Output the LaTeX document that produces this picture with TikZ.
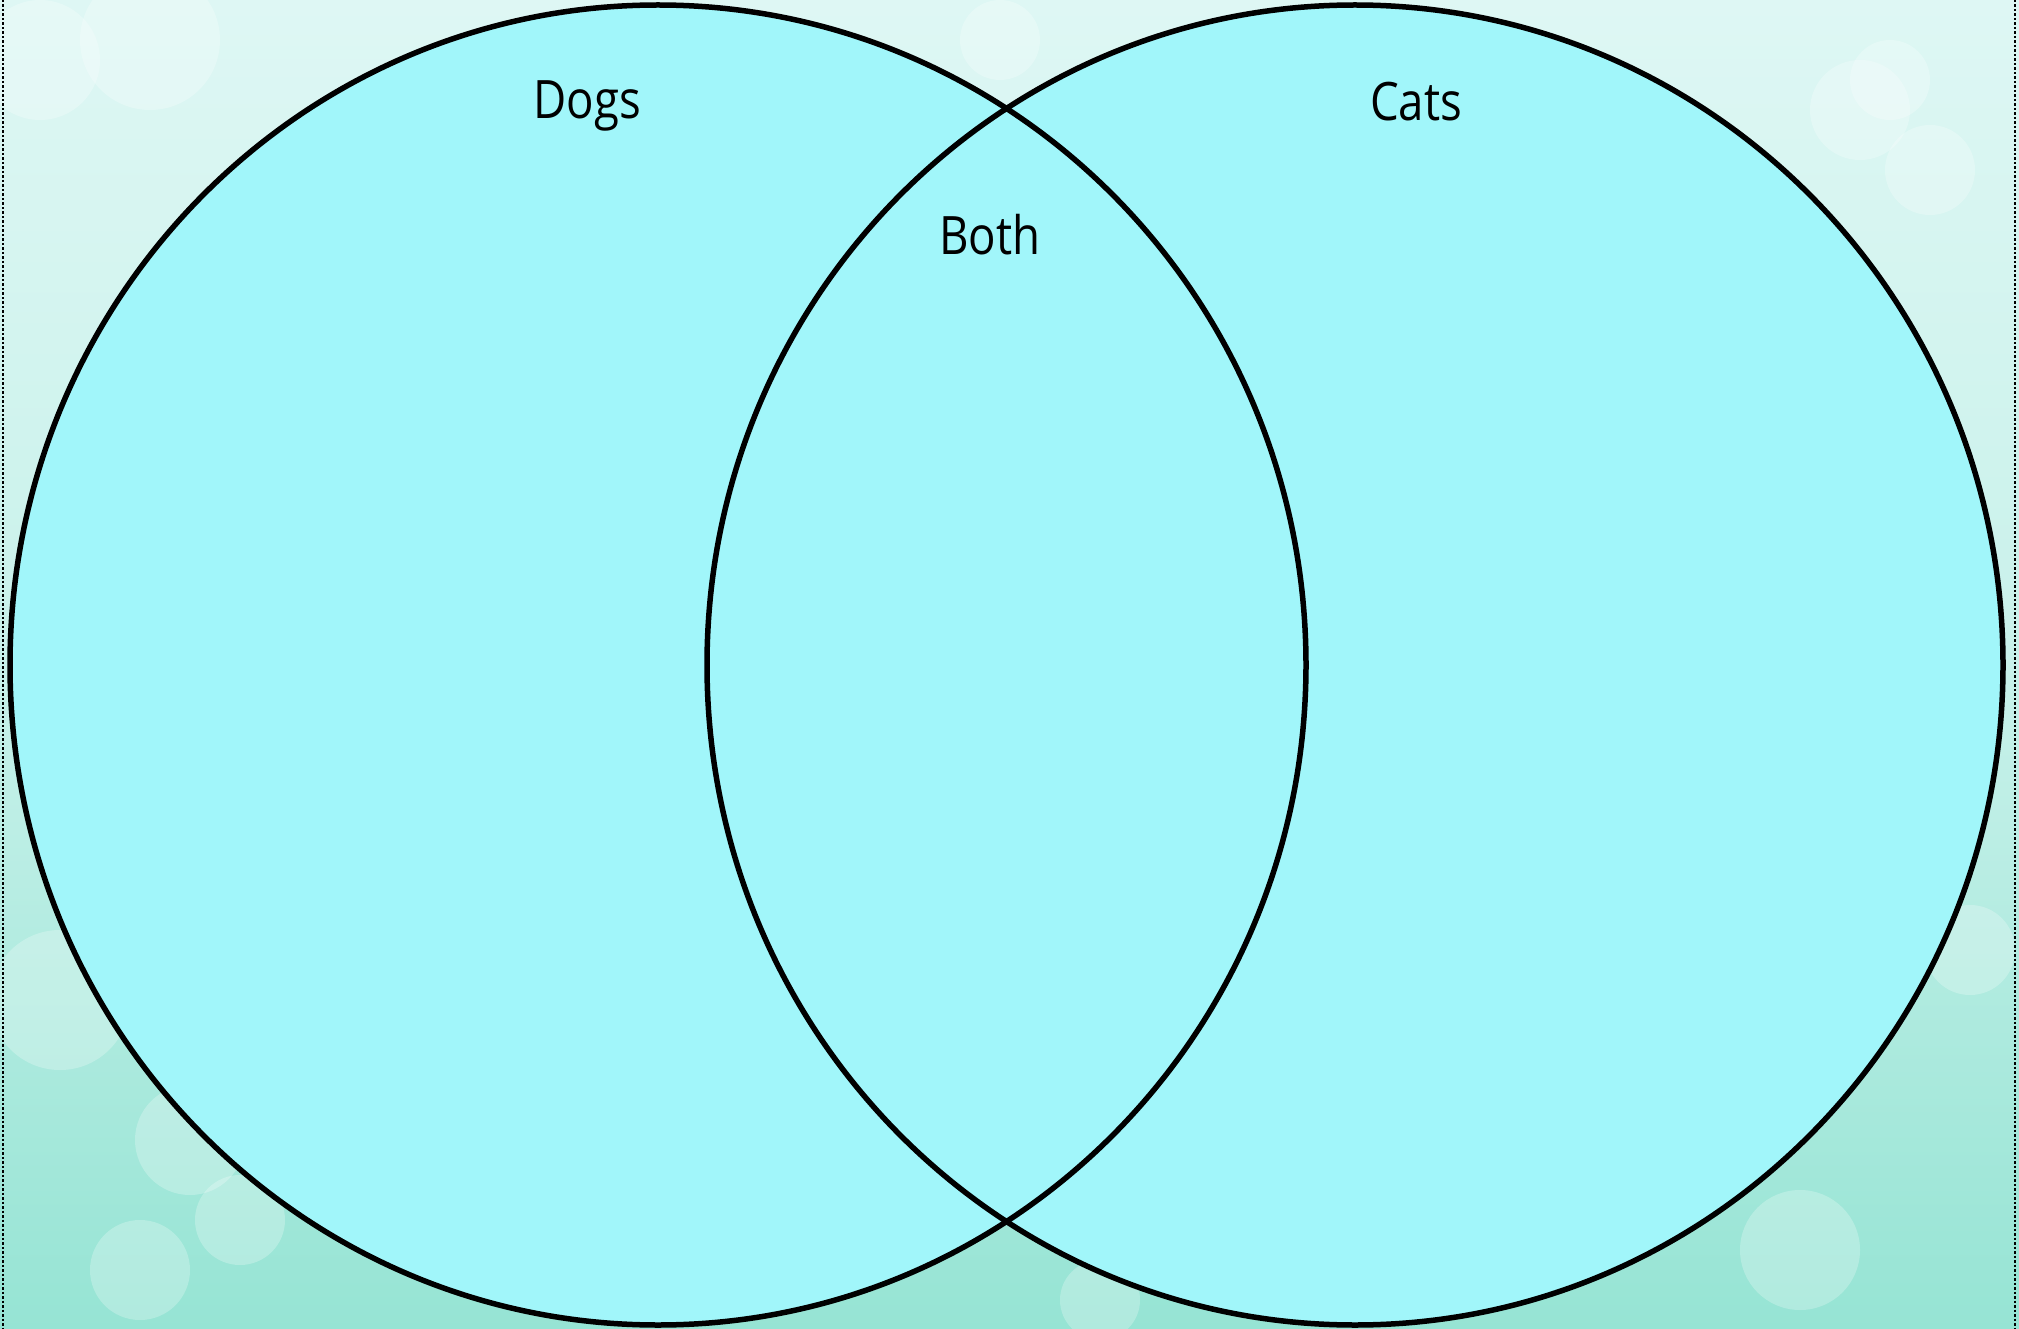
\documentclass[tikz,border=0pt]{standalone}
\usepackage{fontspec}
\setmainfont{Open Sans}
\usetikzlibrary{shapes.geometric}
\definecolor{bgtop}{RGB}{222,247,244}
\definecolor{bgbot}{RGB}{150,228,212}
\definecolor{vennfill}{RGB}{161,246,250}
\tikzset{
  venn/.style={ellipse, minimum width=1296pt, minimum height=1320pt, inner sep=0pt, fill=vennfill},
  vennline/.style={line width=5.5pt, draw=black},
  label/.style={font=\fontsize{53}{56}\selectfont, text=black, inner sep=0pt, xscale=0.86},
  bokeh/.style={fill=white, opacity=0.25}
}
\begin{document}
\begin{tikzpicture}[x=1pt,y=-1pt]
\useasboundingbox (0,0) rectangle (2019,1329);
\shade[top color=bgtop, bottom color=bgbot, middle color=bgtop!70!bgbot] (0,0) rectangle (2019,1329);
\foreach \x/\y/\r in {40/60/60, 150/40/70, 1860/110/50, 1930/170/45, 1890/80/40, 60/1000/70, 190/1140/55, 240/1220/45, 140/1270/50, 1970/950/45, 1800/1250/60, 1000/40/40, 1100/1300/40}
  \fill[bokeh] (\x,\y) circle (\r);
\draw[line width=2.5pt, dotted] (3,0) -- (3,1329);
\draw[line width=2.5pt, dotted] (2015,0) -- (2015,1329);
\node[venn] (dogs) at (658,665) {};
\node[venn] (cats) at (1355,665) {};
\draw[vennline] (dogs.center) ellipse [x radius=648, y radius=660];
\draw[vennline] (cats.center) ellipse [x radius=648, y radius=660];
\node[label] (dogslabel) at (587,106) {Dogs};
\node[label] (catslabel) at (1416,102) {Cats};
\node[label] (bothlabel) at (990,235) {Both};
\end{tikzpicture}
\end{document}
